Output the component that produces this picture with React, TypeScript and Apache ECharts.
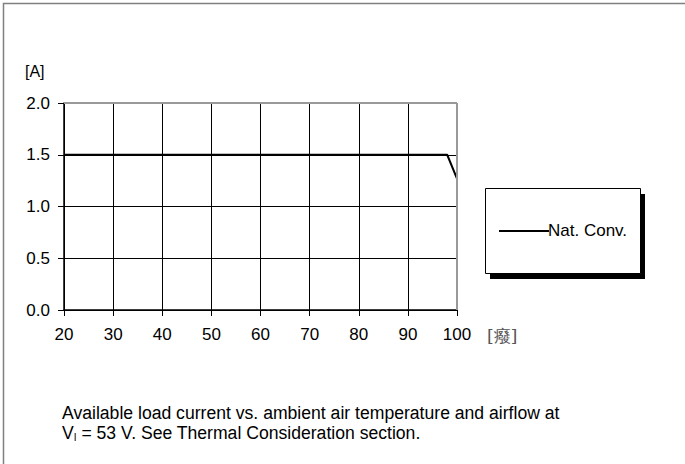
import React, { useEffect, useRef } from "react";
import * as echarts from "echarts";

const temps = [20, 98, 100];
const current = [1.5, 1.5, 1.27];
const xTicks = [20, 30, 40, 50, 60, 70, 80, 90, 100];
const yTicks = [0, 0.5, 1, 1.5, 2];
const seriesName = "Nat. Conv.";
const yUnit = "[A]";
const xUnit = "[癈]";
const captionLine1 = "Available load current vs. ambient air temperature and airflow at";
const captionLine2 = ["V", "I", " = 53 V. See Thermal Consideration section."];

const FONT = "'Liberation Sans', Arial, Helvetica, sans-serif";
const FS = 17;
const CFS = 17.6;

export default function App() {
  const ref = useRef<HTMLDivElement>(null);
  useEffect(() => {
    if (!ref.current) return;
    const chart = echarts.init(ref.current, undefined, { renderer: "svg" });
    const gl = 64, gt = 103, gw = 393, gh = 207;
    chart.setOption({
      animation: false,
      backgroundColor: "#fff",
      textStyle: { fontFamily: FONT },
      grid: { left: gl, top: gt, width: gw, height: gh, containLabel: false },
      xAxis: {
        type: "value",
        min: 20,
        max: 100,
        interval: 10,
        axisLine: { show: true, onZero: false, lineStyle: { color: "#000", width: 1.5 } },
        axisTick: { show: true, length: 6, lineStyle: { color: "#000" } },
        axisLabel: { color: "#000", fontSize: FS, margin: 16, fontFamily: FONT, formatter: (v: number) => (xTicks.includes(v) ? String(v) : "") },
        splitLine: { show: true, lineStyle: { color: "#000", width: 1 } },
      },
      yAxis: {
        type: "value",
        min: 0,
        max: 2,
        interval: 0.5,
        axisLine: { show: true, onZero: false, lineStyle: { color: "#000", width: 1.5 } },
        axisTick: { show: true, length: 6, lineStyle: { color: "#000" } },
        axisLabel: { color: "#000", fontSize: FS, margin: 14, fontFamily: FONT, formatter: (v: number) => (yTicks.includes(v) ? v.toFixed(1) : "") },
        splitLine: { show: true, lineStyle: { color: "#000", width: 1 } },
      },
      series: [
        {
          name: seriesName,
          type: "line",
          data: temps.map((t, i) => [t, current[i]]),
          showSymbol: false,
          lineStyle: { color: "#000", width: 2 },
          clip: true,
        },
      ],
    });
    const [x0, y0] = chart.convertToPixel({ gridIndex: 0 }, [20, 0]) as number[];
    const [x1, y1] = chart.convertToPixel({ gridIndex: 0 }, [100, 2]) as number[];
    chart.setOption({
      graphic: [
        { type: "rect", shape: { x: 3.5, y: 3.5, width: 700, height: 500 }, style: { fill: "none", stroke: "#808080", lineWidth: 1.5 }, z: 0 },
        { type: "line", shape: { x1: x0, y1: y1, x2: x1, y2: y1 }, style: { stroke: "#999", lineWidth: 2 }, z: 10 },
        { type: "line", shape: { x1: x1, y1: y1, x2: x1, y2: y0 }, style: { stroke: "#999", lineWidth: 2 }, z: 10 },
        { type: "text", x: 25, y: 63, style: { text: yUnit, fontSize: 16, fontFamily: "'Liberation Sans Narrow', " + FONT, fill: "#000" } },
        { type: "text", x: x1 + 30, y: y0 + 17, style: { text: xUnit, fontSize: FS, fontFamily: "'DejaVu Serif', serif", fill: "#555" } },
        // legend
        { type: "rect", shape: { x: 490, y: 194, width: 155, height: 85 }, style: { fill: "#000" }, z: 10 },
        { type: "rect", shape: { x: 485.5, y: 188.5, width: 155, height: 85 }, style: { fill: "#fff", stroke: "#000", lineWidth: 1 }, z: 11 },
        { type: "line", shape: { x1: 499, y1: 231, x2: 549, y2: 231 }, style: { stroke: "#000", lineWidth: 2 }, z: 12 },
        { type: "text", x: 548, y: 222, style: { text: seriesName, fontSize: FS, fontFamily: FONT, fill: "#000" }, z: 12 },
        // caption
        { type: "text", x: 62, y: 404, style: { text: captionLine1, fontSize: CFS, fontFamily: FONT, fill: "#000" } },
        {
          type: "text",
          x: 62,
          y: 423,
          style: {
            text: `{n|${captionLine2[0]}}{s|${captionLine2[1]}}{n|${captionLine2[2]}}`,
            fontFamily: FONT,
            fill: "#000",
            rich: {
              n: { fontSize: CFS, fontFamily: FONT, fill: "#000", lineHeight: 20 },
              s: { fontSize: 10, fontFamily: FONT, fill: "#000", padding: [8, 0, 0, 0], lineHeight: 20 },
            },
          },
        },
      ],
    });
    return () => chart.dispose();
  }, []);
  return <div ref={ref} style={{ position: "fixed", left: 0, top: 0, width: 685, height: 464 }} />;
}
